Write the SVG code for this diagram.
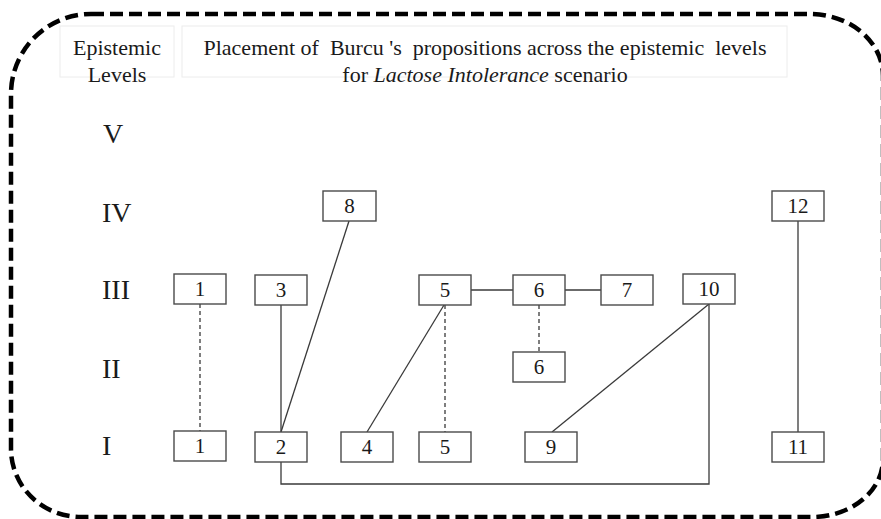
<svg xmlns="http://www.w3.org/2000/svg" width="881" height="519" viewBox="0 0 881 519">
  <style>
    text { font-family: "Liberation Serif", "Times New Roman", serif; fill: #1a1a1a; }
    .hdr { font-size: 22px; }
    .lvl { font-size: 28px; }
    .num { font-size: 21px; text-anchor: middle; }
    .box { fill: #ffffff; stroke: #4a4a4a; stroke-width: 1.4; }
    .frame { fill: none; stroke: #000; stroke-width: 4.5; stroke-dasharray: 13 6; }
    .faint { fill: none; stroke: #ececec; stroke-width: 1; }
    .link { fill: none; stroke: #3a3a3a; stroke-width: 1.3; }
    .dash { fill: none; stroke: #3a3a3a; stroke-width: 1.3; stroke-dasharray: 4 3; }
  </style>

  <!-- dashed outer frame; the right side runs just past the canvas edge -->
  <path class="frame" d="M 91 14 H 810 A 73 62 0 0 1 883 76 V 459 A 71 58 0 0 1 812 517 H 81 A 70 68 0 0 1 11 449 V 94 A 80 80 0 0 1 91 14 Z"/>

  <!-- header -->
  <g id="header">
    <rect class="faint" x="60" y="26" width="114" height="51"/>
    <rect class="faint" x="182" y="26" width="605" height="51"/>
    <text class="hdr" x="117" y="55" text-anchor="middle">Epistemic</text>
    <text class="hdr" x="117" y="82" text-anchor="middle">Levels</text>
    <text class="hdr" x="485" y="55" text-anchor="middle" xml:space="preserve">Placement of  Burcu 's  propositions across the epistemic  levels</text>
    <text class="hdr" x="485" y="82" text-anchor="middle">for <tspan font-style="italic">Lactose Intolerance</tspan> scenario</text>
  </g>

  <!-- level labels -->
  <g id="levels">
    <text class="lvl" x="103" y="143">V</text>
    <text class="lvl" x="102" y="222">IV</text>
    <text class="lvl" x="102" y="299">III</text>
    <text class="lvl" x="102" y="378">II</text>
    <text class="lvl" x="102" y="455">I</text>
  </g>

  <!-- connectors -->
  <g id="connectors">
    <line class="dash" x1="200" y1="304" x2="200" y2="432"/>
    <line class="link" x1="281" y1="305" x2="281" y2="432"/>
    <line class="link" x1="349" y1="221" x2="281" y2="432"/>
    <line class="link" x1="444" y1="305" x2="367" y2="432"/>
    <line class="dash" x1="445" y1="305" x2="445" y2="432"/>
    <line class="link" x1="471" y1="290" x2="513" y2="290"/>
    <line class="link" x1="565" y1="290" x2="601" y2="290"/>
    <line class="dash" x1="539" y1="305" x2="539" y2="352"/>
    <line class="link" x1="709" y1="304" x2="552" y2="432"/>
    <polyline class="link" points="281,462 281,484 709,484 709,304"/>
    <line class="link" x1="798" y1="221" x2="798" y2="432"/>
  </g>

  <!-- level IV -->
  <g id="n8"><rect class="box" x="323" y="191" width="53" height="30"/><text class="num" x="349.5" y="213">8</text></g>
  <g id="n12"><rect class="box" x="772" y="191" width="52" height="30"/><text class="num" x="798" y="213">12</text></g>

  <!-- level III -->
  <g id="n1-III"><rect class="box" x="174" y="274" width="52" height="30"/><text class="num" x="200" y="296">1</text></g>
  <g id="n3"><rect class="box" x="255" y="275" width="52" height="30"/><text class="num" x="281" y="297">3</text></g>
  <g id="n5-III"><rect class="box" x="419" y="275" width="52" height="30"/><text class="num" x="445" y="297">5</text></g>
  <g id="n6-III"><rect class="box" x="513" y="275" width="52" height="30"/><text class="num" x="539" y="297">6</text></g>
  <g id="n7"><rect class="box" x="601" y="275" width="52" height="30"/><text class="num" x="627" y="297">7</text></g>
  <g id="n10"><rect class="box" x="683" y="274" width="52" height="30"/><text class="num" x="709" y="296">10</text></g>

  <!-- level II -->
  <g id="n6-II"><rect class="box" x="513" y="352" width="52" height="30"/><text class="num" x="539" y="374">6</text></g>

  <!-- level I -->
  <g id="n1-I"><rect class="box" x="174" y="431" width="52" height="30"/><text class="num" x="200" y="453">1</text></g>
  <g id="n2"><rect class="box" x="255" y="432" width="52" height="30"/><text class="num" x="281" y="454">2</text></g>
  <g id="n4"><rect class="box" x="341" y="432" width="52" height="30"/><text class="num" x="367" y="454">4</text></g>
  <g id="n5-I"><rect class="box" x="419" y="432" width="52" height="30"/><text class="num" x="445" y="454">5</text></g>
  <g id="n9"><rect class="box" x="525" y="432" width="52" height="30"/><text class="num" x="551" y="454">9</text></g>
  <g id="n11"><rect class="box" x="772" y="432" width="52" height="30"/><text class="num" x="798" y="454">11</text></g>
</svg>
